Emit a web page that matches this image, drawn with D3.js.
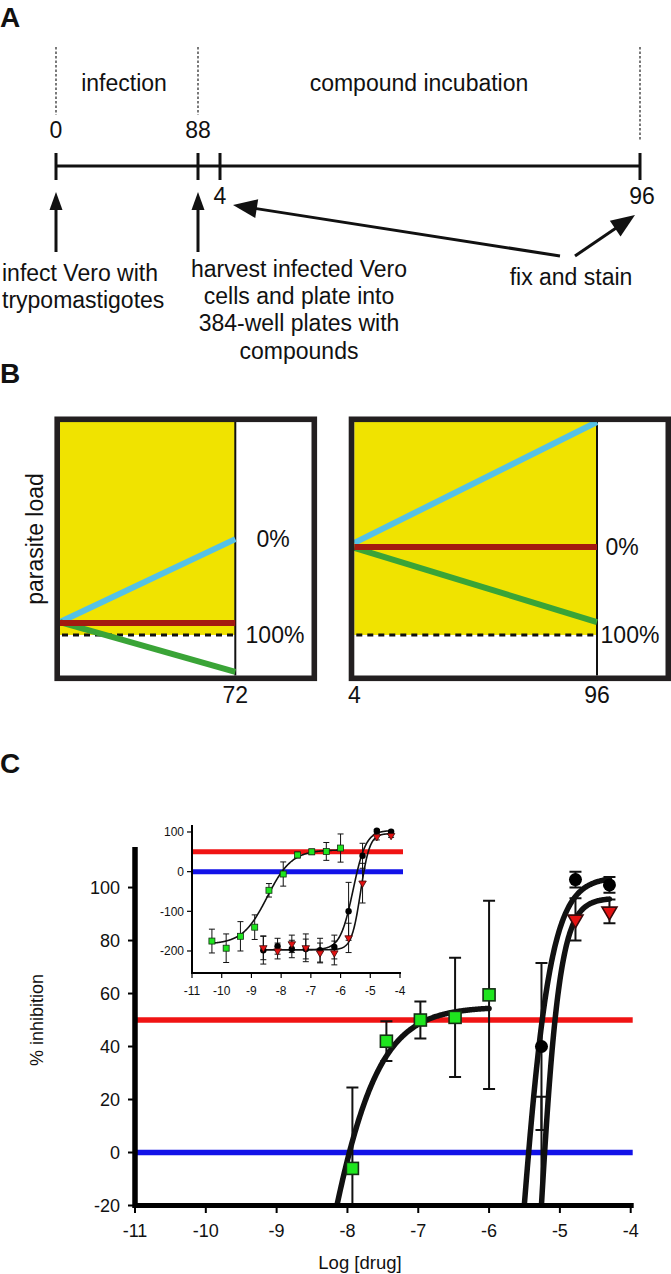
<!DOCTYPE html>
<html><head><meta charset="utf-8">
<script src="https://cdn.jsdelivr.net/npm/d3@7"></script>
<style>
body{margin:0;background:#fff}
svg{display:block}
text{font-family:"Liberation Sans",Arial,Helvetica,sans-serif;fill:#111}
</style>
</head><body>
<svg id="fig" width="671" height="1274"></svg>
<script>
// ---------------- DATA ----------------
// Panel A : timeline (hours)
const infectionTicks = [0, 88];
const incubationTicks = [4, 96];
const phaseNames = ["infection", "compound incubation"];
const noteInfect = ["infect Vero with", "trypomastigotes"];
const noteHarvest = ["harvest infected Vero", "cells and plate into", "384-well plates with", "compounds"];
const noteFix = ["fix and stain"];

// Panel B : schematic parasite load (relative units 0..1)
const leftHours = [0, 72];
const rightHours = [4, 96];
const leftBlue = [0.211, 0.538];
const leftRed = [0.207, 0.207];
const leftGreen = [0.211, 0.014];
const rightBlue = [0.523, 1.0];
const rightRed = [0.507, 0.507];
const rightGreen = [0.503, 0.211];
const fullInhibitionLevel = 0.16;
const pctLabels = ["0%", "100%"];

// Panel C : dose response
const xTicks = [-11, -10, -9, -8, -7, -6, -5, -4];
const yTicksMain = [-20, 0, 20, 40, 60, 80, 100];
const yTicksInset = [-200, -100, 0, 100];
const refLines = [50, 0];
const greenLog = [-10.33, -9.85, -9.37, -8.89, -8.41, -7.93, -7.45, -6.97, -6.48, -6.00];
const greenInh = [-175, -193, -163, -140, -47, -6, 42, 50, 51, 59.5];
const greenErr = [30, 36, 37, 31, 17, 30.5, 7.5, 7, 22.5, 35.5];
const blackLog = [-8.60, -8.12, -7.64, -7.17, -6.69, -6.21, -5.73, -5.26, -4.78, -4.30];
const blackInh = [-198, -188, -195, -195, -198, -190, -100, 40, 103, 101];
const blackErr = [35, 20, 22, 25, 30, 30, 73, 31.5, 3, 3];
const redLog = [-8.60, -8.12, -7.64, -7.17, -6.69, -6.21, -5.73, -5.26, -4.78, -4.30];
const redInh = [-192, -200, -182, -192, -205, -205, -167, -29, 88, 91];
const redErr = [30, 20, 22, 35, 25, 30, 37, 50, 8, 4.5];
// 4-parameter logistic fits: green, black, red
const fitBottom = [-183, -197, -197];
const fitTop = [55, 104, 96];
const fitLogEC50 = [-8.47, -5.58, -5.325];
const fitHill = [1.05, 2.0, 2.85];

// ---------------- DRAW ----------------
const svg = d3.select("#fig");
const FONT = 23;
const ink = "#111";

function arrow(g, x1, y1, x2, y2, hl, hw, sw) {
  const dx = x2 - x1, dy = y2 - y1, L = Math.hypot(dx, dy);
  const ux = dx / L, uy = dy / L, px = -uy, py = ux;
  const bx = x2 - ux * hl, by = y2 - uy * hl;
  g.append("line").attr("x1", x1).attr("y1", y1).attr("x2", bx + ux * 2).attr("y2", by + uy * 2)
    .attr("stroke", ink).attr("stroke-width", sw);
  g.append("path").attr("d", `M${x2},${y2}L${bx + px * hw / 2},${by + py * hw / 2}L${bx - px * hw / 2},${by - py * hw / 2}Z`)
    .attr("fill", ink);
}

// ===== Panel A =====
const A = svg.append("g");
A.append("text").text("A").attr("x", 0).attr("y", 27).attr("font-size", 28).attr("font-weight", "bold");
const xInf = d3.scaleLinear().domain(infectionTicks).range([56, 198]);
const xInc = d3.scaleLinear().domain(incubationTicks).range([220, 640]);
const tlY = 166;
A.append("line").attr("x1", xInf(0)).attr("x2", xInc(96)).attr("y1", tlY).attr("y2", tlY)
  .attr("stroke", ink).attr("stroke-width", 3);
[xInf(0), xInf(88), xInc(4), xInc(96)].forEach(x => {
  A.append("line").attr("x1", x).attr("x2", x).attr("y1", tlY - 13).attr("y2", tlY + 14)
    .attr("stroke", ink).attr("stroke-width", 3);
});
// dotted phase boundaries
[[xInf(0), 115], [xInf(88), 115], [xInc(96), 140]].forEach(([x, yb]) => {
  A.append("line").attr("x1", x).attr("x2", x).attr("y1", 47).attr("y2", yb)
    .attr("stroke", "#222").attr("stroke-width", 1.2).attr("stroke-dasharray", "2.5,2");
});
A.append("text").text(phaseNames[0]).attr("x", (xInf(0) + xInf(88)) / 2 - 3).attr("y", 91)
  .attr("text-anchor", "middle").attr("font-size", FONT);
A.append("text").text(phaseNames[1]).attr("x", (xInf(88) + xInc(96)) / 2).attr("y", 91)
  .attr("text-anchor", "middle").attr("font-size", FONT);
infectionTicks.forEach(t => A.append("text").text(t).attr("x", xInf(t)).attr("y", 138)
  .attr("text-anchor", "middle").attr("font-size", FONT));
A.append("text").text(incubationTicks[0]).attr("x", xInc(4)).attr("y", 204).attr("text-anchor", "middle").attr("font-size", FONT);
A.append("text").text(incubationTicks[1]).attr("x", xInc(96) + 2).attr("y", 204).attr("text-anchor", "middle").attr("font-size", FONT);
// arrows
arrow(A, xInf(0), 252, xInf(0), 192, 18, 13, 3);
arrow(A, xInf(88), 252, xInf(88), 192, 18, 13, 3);
arrow(A, 560, 256, xInc(4) + 13, 205, 24, 19, 3);
arrow(A, 575, 256, xInc(96) - 5, 215, 24, 19, 3);
// notes
noteInfect.forEach((s, i) => A.append("text").text(s).attr("x", 2).attr("y", 281 + i * 27).attr("font-size", FONT));
noteHarvest.forEach((s, i) => A.append("text").text(s).attr("x", 299).attr("y", 277 + i * 27.2)
  .attr("text-anchor", "middle").attr("font-size", FONT));
noteFix.forEach((s, i) => A.append("text").text(s).attr("x", 571).attr("y", 285 + i * 27)
  .attr("text-anchor", "middle").attr("font-size", FONT));

// ===== Panel B =====
const B = svg.append("g");
B.append("text").text("B").attr("x", 0).attr("y", 383).attr("font-size", 28).attr("font-weight", "bold");
B.append("text").text("parasite load").attr("transform", "translate(43,539) rotate(-90)")
  .attr("text-anchor", "middle").attr("font-size", FONT);
const loadY = d3.scaleLinear().domain([0, 1]).range([675.5, 422]);
const panels = [
  {inner: [60, 311.5], hours: leftHours, plotEnd: 235.3, blue: leftBlue, red: leftRed, green: leftGreen,
   zeroAt: leftBlue[1], pctX: [273, 275]},
  {inner: [354.3, 665.5], hours: rightHours, plotEnd: 597, blue: rightBlue, red: rightRed, green: rightGreen,
   zeroAt: rightRed[1], pctX: [622, 630]}
];
panels.forEach(p => {
  const tx = d3.scaleLinear().domain(p.hours).range([p.inner[0], p.plotEnd]);
  // yellow growth region
  B.append("rect").attr("x", tx(p.hours[0])).attr("y", loadY(1))
    .attr("width", tx(p.hours[1]) - tx(p.hours[0])).attr("height", loadY(fullInhibitionLevel) - loadY(1))
    .attr("fill", "#f0e300");
  // dashed 100% line
  B.append("line").attr("x1", tx(p.hours[0]) + 2).attr("x2", tx(p.hours[1])).attr("y1", loadY(fullInhibitionLevel))
    .attr("y2", loadY(fullInhibitionLevel)).attr("stroke", ink).attr("stroke-width", 3).attr("stroke-dasharray", "6,5");
  // divider
  B.append("line").attr("x1", tx(p.hours[1])).attr("x2", tx(p.hours[1])).attr("y1", loadY(1)).attr("y2", loadY(0))
    .attr("stroke", ink).attr("stroke-width", 2);
  const ln = d3.line().x(d => tx(d[0])).y(d => loadY(d[1]));
  [[p.blue, "#55c1e6"], [p.green, "#3aa437"], [p.red, "#a31a10"]].forEach(([vals, col]) => {
    B.append("path").attr("d", ln(p.hours.map((h, i) => [h, vals[i]])))
      .attr("stroke", col).attr("stroke-width", 6).attr("fill", "none");
  });
  // frame
  const o0 = p.inner[0] - 2.8, o1 = p.inner[1] + 2.8;
  B.append("rect").attr("x", o0).attr("y", 419.3).attr("width", o1 - o0).attr("height", 259)
    .attr("fill", "none").attr("stroke", "#231f20").attr("stroke-width", 5.6);
  // % labels
  B.append("text").text(pctLabels[0]).attr("x", p.pctX[0]).attr("y", loadY(p.zeroAt)).attr("dy", "0.35em")
    .attr("text-anchor", "middle").attr("font-size", FONT);
  B.append("text").text(pctLabels[1]).attr("x", p.pctX[1]).attr("y", loadY(fullInhibitionLevel)).attr("dy", "0.35em")
    .attr("text-anchor", "middle").attr("font-size", FONT);
  // hour labels
  const lbls = p === panels[0] ? [p.hours[1]] : p.hours;
  lbls.forEach(h => B.append("text").text(h).attr("x", tx(h)).attr("y", 703)
    .attr("text-anchor", "middle").attr("font-size", FONT));
});

// ===== Panel C =====
const C = svg.append("g");
C.append("text").text("C").attr("x", 0).attr("y", 773).attr("font-size", 28).attr("font-weight", "bold");

function logistic(k, x) {
  return fitBottom[k] + (fitTop[k] - fitBottom[k]) / (1 + Math.pow(10, (fitLogEC50[k] - x) * fitHill[k]));
}
const series = [
  {k: 0, xs: greenLog, ys: greenInh, es: greenErr, shape: "square"},
  {k: 1, xs: blackLog, ys: blackInh, es: blackErr, shape: "circle"},
  {k: 2, xs: redLog, ys: redInh, es: redErr, shape: "triangle"}
];

function drawPlot(g, x, y, o) {
  const id = "clip" + o.name;
  const [x0, x1] = x.range();
  const [yb, yt] = y.range();
  g.append("clipPath").attr("id", id).append("rect")
    .attr("x", x0).attr("y", yt - 10).attr("width", x1 - x0 + 12).attr("height", yb - yt + 10);
  const plot = g.append("g").attr("clip-path", `url(#${id})`);
  // reference lines
  refLines.forEach((v, i) => plot.append("line").attr("x1", x0).attr("x2", x(-4) + o.refExt)
    .attr("y1", y(v)).attr("y2", y(v)).attr("stroke", i === 0 ? "#f01414" : "#1212e8").attr("stroke-width", o.refW));
  // error bars
  series.forEach(s => s.xs.forEach((xv, i) => {
    const cx = x(xv), lo = y(s.ys[i] - s.es[i]), hi = y(s.ys[i] + s.es[i]);
    plot.append("line").attr("x1", cx).attr("x2", cx).attr("y1", lo).attr("y2", hi).attr("stroke", ink).attr("stroke-width", o.ebW);
    [lo, hi].forEach(yy => plot.append("line").attr("x1", cx - o.cap).attr("x2", cx + o.cap).attr("y1", yy).attr("y2", yy)
      .attr("stroke", ink).attr("stroke-width", o.ebW));
  }));
  // fitted curves
  series.forEach(s => {
    const xa = s.k === 0 ? greenLog[0] : blackLog[0];
    const xb = s.k === 0 ? greenLog[greenLog.length - 1] : blackLog[blackLog.length - 1];
    const pts = d3.range(xa, xb + 0.0001, 0.01).map(v => [v, logistic(s.k, v)]);
    plot.append("path").attr("d", d3.line().x(d => x(d[0])).y(d => y(d[1]))(pts))
      .attr("fill", "none").attr("stroke", ink).attr("stroke-width", o.curveW).attr("stroke-linecap", "round");
  });
  // markers
  series.forEach(s => s.xs.forEach((xv, i) => {
    const cx = x(xv), cy = y(s.ys[i]);
    if (s.shape === "square") {
      plot.append("rect").attr("x", cx - o.sq / 2).attr("y", cy - o.sq / 2).attr("width", o.sq).attr("height", o.sq)
        .attr("fill", "#1ee51e").attr("stroke", "#153015").attr("stroke-width", o.mkW);
    } else if (s.shape === "circle") {
      plot.append("circle").attr("cx", cx).attr("cy", cy).attr("r", o.r).attr("fill", "#000");
    } else {
      const w = o.tri, h = o.tri * 0.85;
      plot.append("path").attr("d", `M${cx - w / 2},${cy - h / 3}L${cx + w / 2},${cy - h / 3}L${cx},${cy + 2 * h / 3}Z`)
        .attr("fill", "#e31111").attr("stroke", "#3a0a0a").attr("stroke-width", o.mkW);
    }
  }));
}

// main plot
const xM = d3.scaleLinear().domain([-11, -4]).range([135, 630.7]);
const yM = d3.scaleLinear().domain([-20, 115.3]).range([1205.5, 847]);
drawPlot(C, xM, yM, {name: "main", refW: 5.5, refExt: 2, ebW: 2, cap: 6, curveW: 5.5, sq: 12, r: 6.5, tri: 15, mkW: 1.6});
// main axes
C.append("line").attr("x1", xM(-11)).attr("x2", xM(-11)).attr("y1", 847).attr("y2", 1208).attr("stroke", "#000").attr("stroke-width", 5.5);
C.append("line").attr("x1", xM(-11) - 2).attr("x2", xM(-4) + 3).attr("y1", 1205.5).attr("y2", 1205.5).attr("stroke", "#000").attr("stroke-width", 5);
yTicksMain.forEach(v => {
  C.append("line").attr("x1", xM(-11) - 7).attr("x2", xM(-11)).attr("y1", yM(v)).attr("y2", yM(v)).attr("stroke", "#000").attr("stroke-width", 2);
  C.append("text").text(v).attr("x", 120).attr("y", yM(v)).attr("dy", "0.35em").attr("text-anchor", "end").attr("font-size", 18);
});
xTicks.forEach(v => {
  C.append("line").attr("x1", xM(v)).attr("x2", xM(v)).attr("y1", 1205).attr("y2", 1213).attr("stroke", "#000").attr("stroke-width", 2);
  C.append("text").text(v).attr("x", xM(v)).attr("y", 1237).attr("text-anchor", "middle").attr("font-size", 18);
});
C.append("text").text("% inhibition").attr("transform", "translate(43,1020) rotate(-90)")
  .attr("text-anchor", "middle").attr("font-size", 18);
C.append("text").text("Log [drug]").attr("x", 360).attr("y", 1269).attr("text-anchor", "middle").attr("font-size", 18.5);

// inset
const xI = d3.scaleLinear().domain([-11, -4]).range([192, 400]);
const yI = d3.scaleLinear().domain([-255.5, 117.6]).range([973, 825]);
drawPlot(C, xI, yI, {name: "inset", refW: 5, refExt: 3, ebW: 1, cap: 3, curveW: 1.6, sq: 6, r: 3.2, tri: 7.5, mkW: 0.8});
C.append("line").attr("x1", xI(-11)).attr("x2", xI(-11)).attr("y1", 825).attr("y2", 974).attr("stroke", "#000").attr("stroke-width", 2);
C.append("line").attr("x1", xI(-11)).attr("x2", xI(-4) + 1).attr("y1", 973).attr("y2", 973).attr("stroke", "#000").attr("stroke-width", 2);
yTicksInset.forEach(v => {
  C.append("line").attr("x1", xI(-11) - 5).attr("x2", xI(-11)).attr("y1", yI(v)).attr("y2", yI(v)).attr("stroke", "#000").attr("stroke-width", 1.2);
  C.append("text").text(v).attr("x", 184).attr("y", yI(v)).attr("dy", "0.35em").attr("text-anchor", "end").attr("font-size", 12);
});
xTicks.forEach(v => {
  C.append("line").attr("x1", xI(v)).attr("x2", xI(v)).attr("y1", 973).attr("y2", 978).attr("stroke", "#000").attr("stroke-width", 1.2);
  C.append("text").text(v).attr("x", xI(v)).attr("y", 995).attr("text-anchor", "middle").attr("font-size", 12);
});
</script>
</body></html>
